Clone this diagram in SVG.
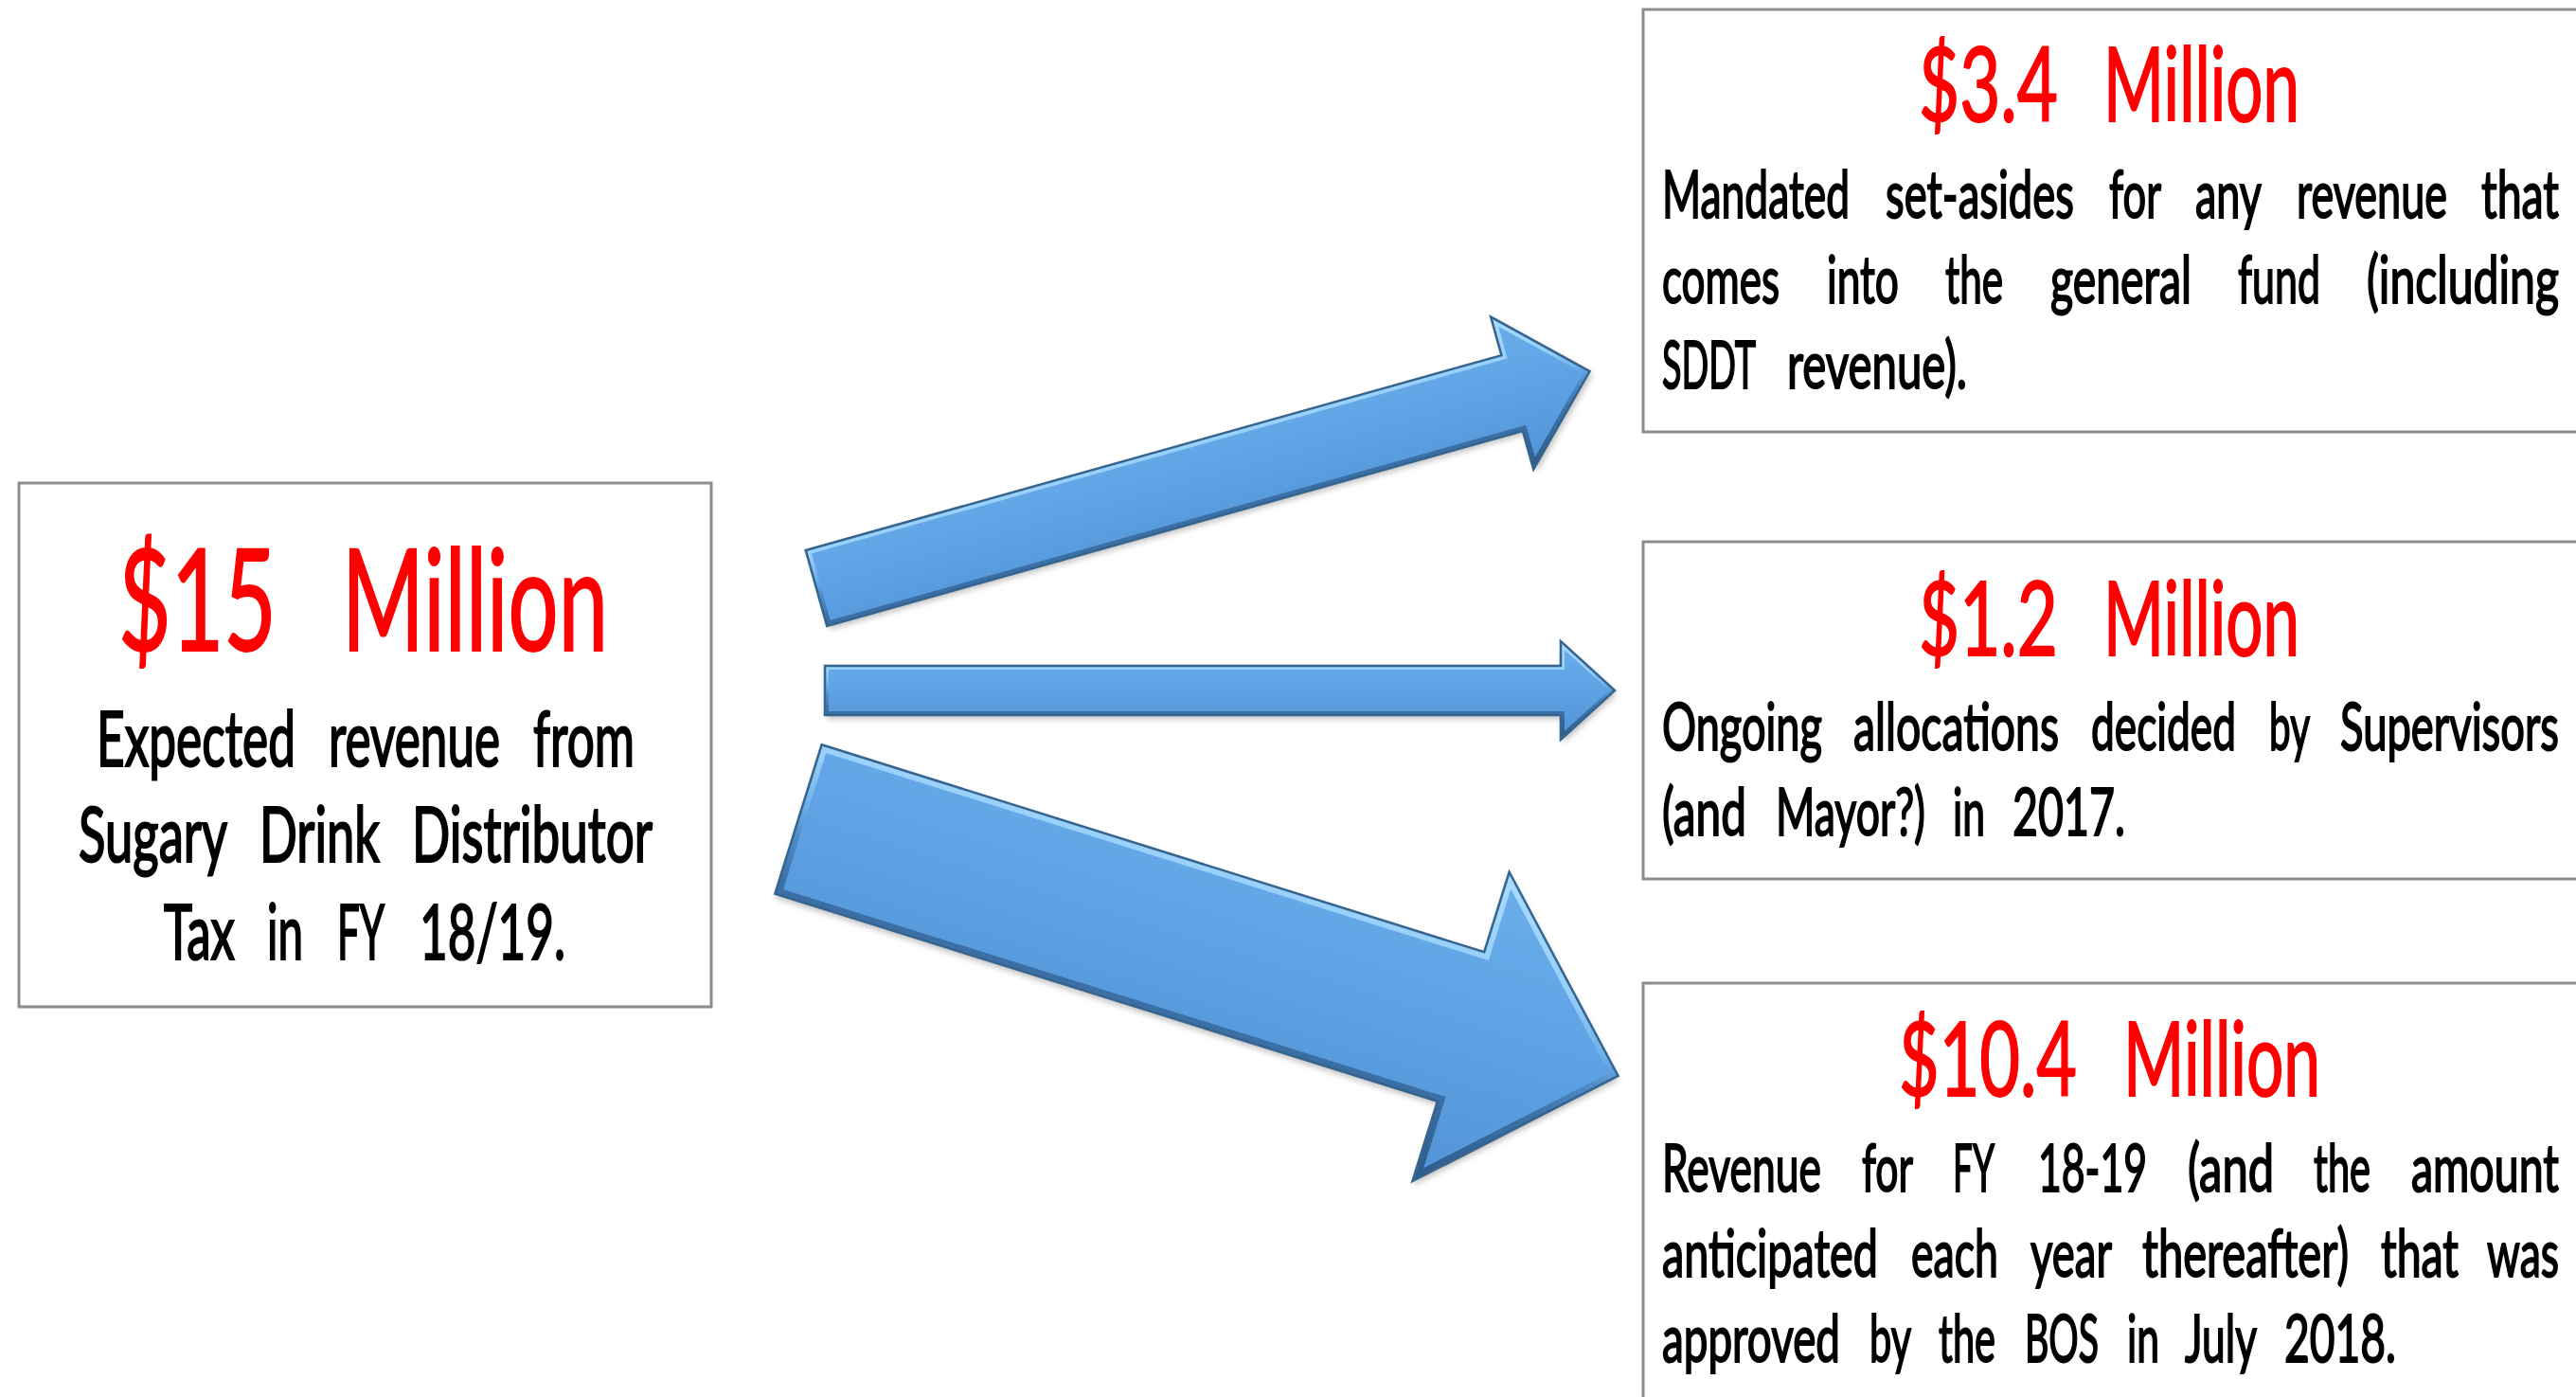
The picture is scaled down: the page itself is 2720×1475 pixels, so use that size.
<svg xmlns="http://www.w3.org/2000/svg" width="2720" height="1475" viewBox="0 0 2720 1475">
<style>
.box{fill:#fff;stroke:#8c8c8c;stroke-width:3}
text{font-family:Lato,"Liberation Sans",sans-serif;}
.t{fill:#ff0000;font-size:150px;stroke:#ff0000;stroke-width:2}
.rt{fill:#ff0000;font-size:109px;stroke:#ff0000;stroke-width:2}
.lb{fill:#000;font-size:82px;stroke:#000;stroke-width:2.2}
.rb{fill:#000;font-size:70px;stroke:#000;stroke-width:2}
.afill{fill:url(#gf);filter:url(#sh)}
.abev{fill:none;stroke:url(#gb)}
.aout{fill:none;stroke:#35658f;stroke-width:2.5;stroke-linejoin:miter}
</style>
<defs>
<filter id="sh" x="-10%" y="-10%" width="120%" height="130%">
<feDropShadow dx="2" dy="4" stdDeviation="3" flood-color="#000" flood-opacity="0.25"/>
</filter>
<linearGradient id="gf" x1="0" y1="0" x2="0" y2="1">
<stop offset="0" stop-color="#6aaeeb"/><stop offset="0.5" stop-color="#5ea2e4"/><stop offset="1" stop-color="#5293d6"/>
</linearGradient>
<linearGradient id="gb" x1="0" y1="0" x2="0" y2="1">
<stop offset="0" stop-color="#a9dbff"/><stop offset="0.3" stop-color="#98d0fa"/><stop offset="0.45" stop-color="#6fb0ea"/><stop offset="0.55" stop-color="#4f8cc8"/><stop offset="0.7" stop-color="#3c71a8"/><stop offset="1" stop-color="#2e5b8a"/>
</linearGradient>
<clipPath id="c1"><polygon points="0,-41.5 763,-41.5 763,-83.5 848,0 763,83.5 763,41.5 0,41.5"/></clipPath>
<clipPath id="c2"><polygon points="0,-26 777,-26 777,-52 834,0 777,52 777,26 0,26"/></clipPath>
<clipPath id="c3"><polygon points="0,-82.5 733,-82.5 733,-171 907,0 733,171 733,82.5 0,82.5"/></clipPath>
</defs>

<g id="connectors">
<g id="arrow-top" transform="translate(862,621) rotate(-15.66)">
<polygon class="afill" points="0,-41.5 763,-41.5 763,-83.5 848,0 763,83.5 763,41.5 0,41.5"/>
<g clip-path="url(#c1)"><polygon class="abev" stroke-width="10" points="0,-41.5 763,-41.5 763,-83.5 848,0 763,83.5 763,41.5 0,41.5"/></g>
<polygon class="aout" points="0,-41.5 763,-41.5 763,-83.5 848,0 763,83.5 763,41.5 0,41.5"/>
</g>
<g id="arrow-mid" transform="translate(871,729)">
<polygon class="afill" points="0,-26 777,-26 777,-52 834,0 777,52 777,26 0,26"/>
<g clip-path="url(#c2)"><polygon class="abev" stroke-width="8" points="0,-26 777,-26 777,-52 834,0 777,52 777,26 0,26"/></g>
<polygon class="aout" points="0,-26 777,-26 777,-52 834,0 777,52 777,26 0,26"/>
</g>
<g id="arrow-bot" transform="translate(843,865) rotate(17.38)">
<polygon class="afill" points="0,-82.5 733,-82.5 733,-171 907,0 733,171 733,82.5 0,82.5"/>
<g clip-path="url(#c3)"><polygon class="abev" stroke-width="14" points="0,-82.5 733,-82.5 733,-171 907,0 733,171 733,82.5 0,82.5"/></g>
<polygon class="aout" points="0,-82.5 733,-82.5 733,-171 907,0 733,171 733,82.5 0,82.5"/>
</g>
</g>

<g id="node-total">
<rect class="box" x="20" y="510" width="731" height="553"/>
<g transform="scale(0.625,1)">
<text class="t" x="200" y="687" textLength="267.2" lengthAdjust="spacingAndGlyphs">$15</text>
<text class="t" x="577.6" y="687" textLength="449.6" lengthAdjust="spacingAndGlyphs">Million</text>
<text class="lb" x="163.2" y="809" textLength="336" lengthAdjust="spacingAndGlyphs">Expected</text>
<text class="lb" x="555.2" y="809" textLength="289.6" lengthAdjust="spacingAndGlyphs">revenue</text>
<text class="lb" x="900.8" y="809" textLength="171.2" lengthAdjust="spacingAndGlyphs">from</text>
<text class="lb" x="132.8" y="910" textLength="251.2" lengthAdjust="spacingAndGlyphs">Sugary</text>
<text class="lb" x="438.4" y="910" textLength="203.2" lengthAdjust="spacingAndGlyphs">Drink</text>
<text class="lb" x="696" y="910" textLength="406.4" lengthAdjust="spacingAndGlyphs">Distributor</text>
<text class="lb" x="276.8" y="1013" textLength="120" lengthAdjust="spacingAndGlyphs">Tax</text>
<text class="lb" x="451.2" y="1013" textLength="60.8" lengthAdjust="spacingAndGlyphs">in</text>
<text class="lb" x="569.6" y="1013" textLength="80" lengthAdjust="spacingAndGlyphs">FY</text>
<text class="lb" x="708.8" y="1013" textLength="246.4" lengthAdjust="spacingAndGlyphs">18/19.</text>
</g>
</g>

<g id="node-setasides">
<rect class="box" x="1735" y="10" width="1010" height="446"/>
<g transform="scale(0.625,1)">
<text class="rt" x="3241.6" y="128" textLength="235.2" lengthAdjust="spacingAndGlyphs">$3.4</text>
<text class="rt" x="3553.6" y="128" textLength="331.2" lengthAdjust="spacingAndGlyphs">Million</text>
<text class="rb" x="2808" y="230" textLength="316.8" lengthAdjust="spacingAndGlyphs">Mandated</text>
<text class="rb" x="3185.6" y="230" textLength="318.4" lengthAdjust="spacingAndGlyphs">set-asides</text>
<text class="rb" x="3563.2" y="230" textLength="88" lengthAdjust="spacingAndGlyphs">for</text>
<text class="rb" x="3708.8" y="230" textLength="112" lengthAdjust="spacingAndGlyphs">any</text>
<text class="rb" x="3880" y="230" textLength="254.4" lengthAdjust="spacingAndGlyphs">revenue</text>
<text class="rb" x="4192" y="230" textLength="131.2" lengthAdjust="spacingAndGlyphs">that</text>
<text class="rb" x="2808" y="320" textLength="198.4" lengthAdjust="spacingAndGlyphs">comes</text>
<text class="rb" x="3086.4" y="320" textLength="121.6" lengthAdjust="spacingAndGlyphs">into</text>
<text class="rb" x="3286.4" y="320" textLength="97.6" lengthAdjust="spacingAndGlyphs">the</text>
<text class="rb" x="3464" y="320" textLength="238.4" lengthAdjust="spacingAndGlyphs">general</text>
<text class="rb" x="3780.8" y="320" textLength="139.2" lengthAdjust="spacingAndGlyphs">fund</text>
<text class="rb" x="3998.4" y="320" textLength="324.8" lengthAdjust="spacingAndGlyphs">(including</text>
<text class="rb" x="2808" y="410" textLength="158.4" lengthAdjust="spacingAndGlyphs">SDDT</text>
<text class="rb" x="3019.2" y="410" textLength="304" lengthAdjust="spacingAndGlyphs">revenue).</text>
</g>
</g>

<g id="node-allocations">
<rect class="box" x="1735" y="572" width="1010" height="356"/>
<g transform="scale(0.625,1)">
<text class="rt" x="3241.6" y="692" textLength="235.2" lengthAdjust="spacingAndGlyphs">$1.2</text>
<text class="rt" x="3553.6" y="692" textLength="331.2" lengthAdjust="spacingAndGlyphs">Million</text>
<text class="rb" x="2808" y="792" textLength="270.4" lengthAdjust="spacingAndGlyphs">Ongoing</text>
<text class="rb" x="3131.2" y="792" textLength="347.2" lengthAdjust="spacingAndGlyphs">allocations</text>
<text class="rb" x="3532.8" y="792" textLength="244.8" lengthAdjust="spacingAndGlyphs">decided</text>
<text class="rb" x="3833.6" y="792" textLength="68.8" lengthAdjust="spacingAndGlyphs">by</text>
<text class="rb" x="3953.6" y="792" textLength="369.6" lengthAdjust="spacingAndGlyphs">Supervisors</text>
<text class="rb" x="2808" y="882" textLength="142.4" lengthAdjust="spacingAndGlyphs">(and</text>
<text class="rb" x="3000" y="882" textLength="252.8" lengthAdjust="spacingAndGlyphs">Mayor?)</text>
<text class="rb" x="3299.2" y="882" textLength="54.4" lengthAdjust="spacingAndGlyphs">in</text>
<text class="rb" x="3400" y="882" textLength="190.4" lengthAdjust="spacingAndGlyphs">2017.</text>
</g>
</g>

<g id="node-bos">
<rect class="box" x="1735" y="1038" width="1010" height="460"/>
<g transform="scale(0.625,1)">
<text class="rt" x="3208" y="1157" textLength="300.8" lengthAdjust="spacingAndGlyphs">$10.4</text>
<text class="rt" x="3587.2" y="1157" textLength="332.8" lengthAdjust="spacingAndGlyphs">Million</text>
<text class="rb" x="2808" y="1258" textLength="268.8" lengthAdjust="spacingAndGlyphs">Revenue</text>
<text class="rb" x="3145.6" y="1258" textLength="86.4" lengthAdjust="spacingAndGlyphs">for</text>
<text class="rb" x="3299.2" y="1258" textLength="70.4" lengthAdjust="spacingAndGlyphs">FY</text>
<text class="rb" x="3443.2" y="1258" textLength="184" lengthAdjust="spacingAndGlyphs">18-19</text>
<text class="rb" x="3696" y="1258" textLength="145.6" lengthAdjust="spacingAndGlyphs">(and</text>
<text class="rb" x="3908.8" y="1258" textLength="96" lengthAdjust="spacingAndGlyphs">the</text>
<text class="rb" x="4073.6" y="1258" textLength="249.6" lengthAdjust="spacingAndGlyphs">amount</text>
<text class="rb" x="2808" y="1348" textLength="364.8" lengthAdjust="spacingAndGlyphs">anticipated</text>
<text class="rb" x="3228.8" y="1348" textLength="147.2" lengthAdjust="spacingAndGlyphs">each</text>
<text class="rb" x="3430.4" y="1348" textLength="137.6" lengthAdjust="spacingAndGlyphs">year</text>
<text class="rb" x="3619.2" y="1348" textLength="348.8" lengthAdjust="spacingAndGlyphs">thereafter)</text>
<text class="rb" x="4022.4" y="1348" textLength="131.2" lengthAdjust="spacingAndGlyphs">that</text>
<text class="rb" x="4201.6" y="1348" textLength="121.6" lengthAdjust="spacingAndGlyphs">was</text>
<text class="rb" x="2808" y="1438" textLength="300.8" lengthAdjust="spacingAndGlyphs">approved</text>
<text class="rb" x="3158.4" y="1438" textLength="70.4" lengthAdjust="spacingAndGlyphs">by</text>
<text class="rb" x="3275.2" y="1438" textLength="96" lengthAdjust="spacingAndGlyphs">the</text>
<text class="rb" x="3420.8" y="1438" textLength="124.8" lengthAdjust="spacingAndGlyphs">BOS</text>
<text class="rb" x="3593.6" y="1438" textLength="54.4" lengthAdjust="spacingAndGlyphs">in</text>
<text class="rb" x="3691.2" y="1438" textLength="121.6" lengthAdjust="spacingAndGlyphs">July</text>
<text class="rb" x="3859.2" y="1438" textLength="188.8" lengthAdjust="spacingAndGlyphs">2018.</text>
</g>
</g>
</svg>
